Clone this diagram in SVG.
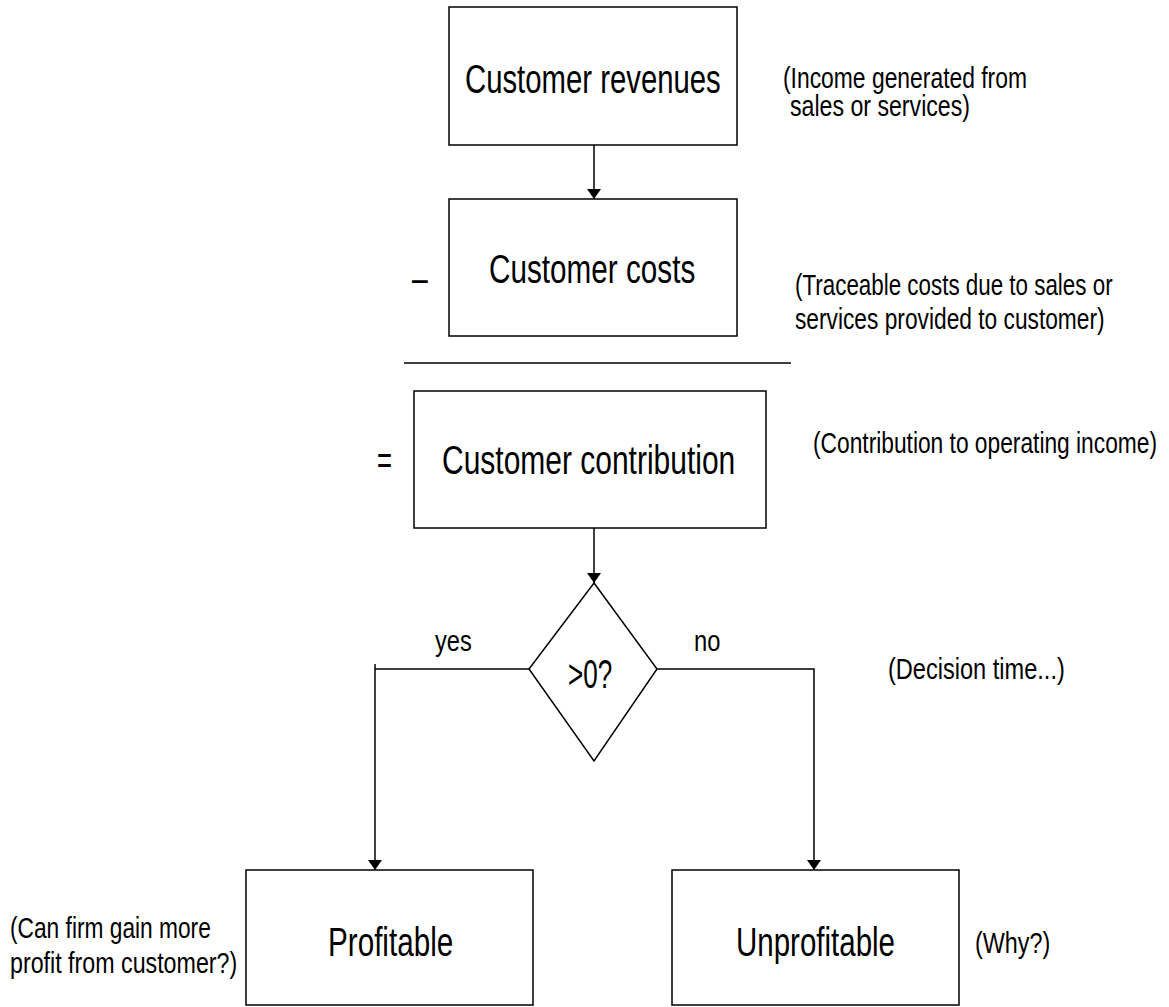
<svg xmlns="http://www.w3.org/2000/svg" width="1169" height="1007" viewBox="0 0 1169 1007">
  <style>
    .box { fill: #ffffff; stroke: #000000; stroke-width: 1.5; }
    .wire { fill: none; stroke: #000000; stroke-width: 1.5; }
    .big { font-family: "Liberation Sans", Arial, sans-serif; font-size: 40px; fill: #000000; }
    .note { font-family: "Liberation Sans", Arial, sans-serif; font-size: 29px; fill: #000000; }
  </style>
  <defs>
    <marker id="arrow" viewBox="0 0 10 14" refX="10" refY="7" markerWidth="10" markerHeight="14" markerUnits="userSpaceOnUse" orient="auto">
      <path d="M0,0 L10,7 L0,14 Z" fill="#000000"/>
    </marker>
  </defs>
  <rect width="1169" height="1007" fill="#ffffff"/>

  <!-- connectors -->
  <g id="connectors">
    <line class="wire" x1="594" y1="145" x2="594" y2="199" marker-end="url(#arrow)"/>
    <line class="wire" x1="594" y1="528" x2="594" y2="583" marker-end="url(#arrow)"/>
    <polyline class="wire" points="529,669 375,669"/>
    <line class="wire" x1="375" y1="664" x2="375" y2="870" marker-end="url(#arrow)"/>
    <polyline class="wire" points="657,669 814,669 814,870" marker-end="url(#arrow)"/>
  </g>

  <!-- condensed lettering: big text scaled 0.75 wide, notes 0.8 wide -->
  <g id="revenues">
    <rect class="box" x="449" y="7" width="288" height="138"/>
    <text class="big" transform="translate(465,93) scale(0.75,1)" textLength="341" lengthAdjust="spacingAndGlyphs">Customer revenues</text>
  </g>

  <g id="costs">
    <rect class="box" x="449" y="199" width="288" height="137"/>
    <text class="big" transform="translate(489,283) scale(0.75,1)" textLength="275" lengthAdjust="spacingAndGlyphs">Customer costs</text>
    <text class="big" transform="translate(412,292) scale(0.75,1)" textLength="21" lengthAdjust="spacingAndGlyphs">–</text>
  </g>

  <!-- subtraction rule -->
  <line id="sum-rule" class="wire" x1="404" y1="363" x2="791" y2="363"/>

  <g id="contribution">
    <rect class="box" x="414" y="391" width="352" height="137"/>
    <text class="big" transform="translate(442,474) scale(0.75,1)" textLength="391" lengthAdjust="spacingAndGlyphs">Customer contribution</text>
    <text class="big" transform="translate(377,474) scale(0.75,1)" textLength="20" lengthAdjust="spacingAndGlyphs">=</text>
  </g>

  <g id="decision">
    <polygon class="box" points="594,583 657,669 594,761 529,669"/>
    <text class="big" transform="translate(568,688) scale(0.75,1)" textLength="59" lengthAdjust="spacingAndGlyphs">&gt;0?</text>
    <text class="note" transform="translate(435,651) scale(0.8,1)" textLength="46" lengthAdjust="spacingAndGlyphs">yes</text>
    <text class="note" transform="translate(694,651) scale(0.8,1)" textLength="33" lengthAdjust="spacingAndGlyphs">no</text>
  </g>

  <g id="profitable">
    <rect class="box" x="246" y="870" width="287" height="135"/>
    <text class="big" transform="translate(328,956) scale(0.75,1)" textLength="167" lengthAdjust="spacingAndGlyphs">Profitable</text>
  </g>

  <g id="unprofitable">
    <rect class="box" x="672" y="870" width="287" height="135"/>
    <text class="big" transform="translate(736,956) scale(0.75,1)" textLength="212" lengthAdjust="spacingAndGlyphs">Unprofitable</text>
  </g>

  <!-- side notes -->
  <g id="notes">
    <text class="note" transform="translate(783,88) scale(0.8,1)" textLength="305" lengthAdjust="spacingAndGlyphs">(Income generated from</text>
    <text class="note" transform="translate(790,116) scale(0.8,1)" textLength="225" lengthAdjust="spacingAndGlyphs">sales or services)</text>
    <text class="note" transform="translate(795,295) scale(0.8,1)" textLength="397" lengthAdjust="spacingAndGlyphs">(Traceable costs due to sales or</text>
    <text class="note" transform="translate(795,329) scale(0.8,1)" textLength="387" lengthAdjust="spacingAndGlyphs">services provided to customer)</text>
    <text class="note" transform="translate(813,453) scale(0.8,1)" textLength="430" lengthAdjust="spacingAndGlyphs">(Contribution to operating income)</text>
    <text class="note" transform="translate(888,679) scale(0.8,1)" textLength="221" lengthAdjust="spacingAndGlyphs">(Decision time...)</text>
    <text class="note" transform="translate(10,938) scale(0.8,1)" textLength="251" lengthAdjust="spacingAndGlyphs">(Can firm gain more</text>
    <text class="note" transform="translate(10,973) scale(0.8,1)" textLength="284" lengthAdjust="spacingAndGlyphs">profit from customer?)</text>
    <text class="note" transform="translate(975,953) scale(0.8,1)" textLength="94" lengthAdjust="spacingAndGlyphs">(Why?)</text>
  </g>
</svg>
